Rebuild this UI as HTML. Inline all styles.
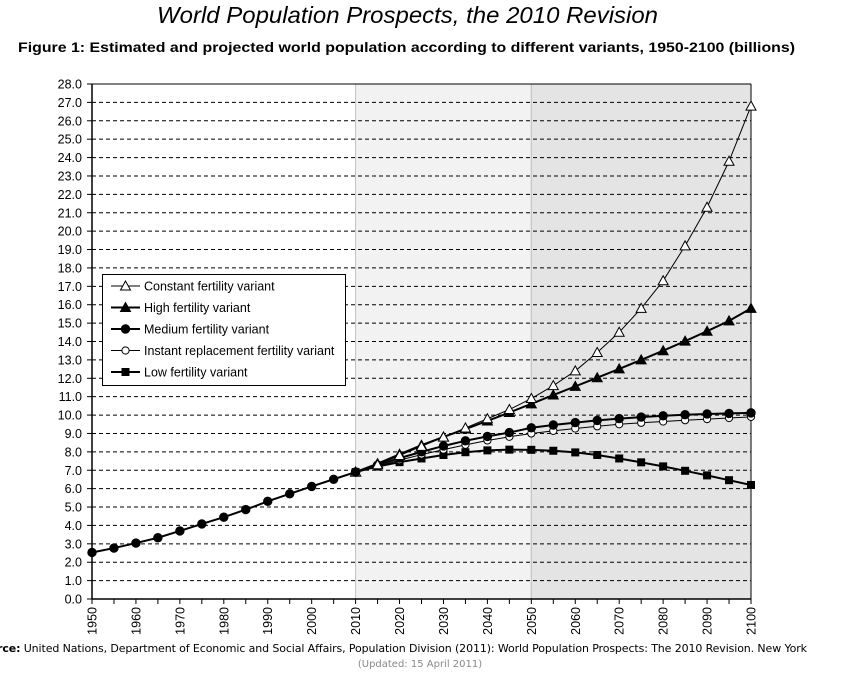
<!DOCTYPE html>
<html><head><meta charset="utf-8"><style>
body{margin:0;background:#fff;width:842px;height:673px;overflow:hidden;font-family:"Liberation Sans",sans-serif}
svg{display:block}
</style></head><body>
<svg id="chart" width="842" height="673" xmlns="http://www.w3.org/2000/svg">
<text x="157" y="23" font-size="23" font-style="italic" font-family="Liberation Sans" textLength="501" lengthAdjust="spacingAndGlyphs">World Population Prospects, the 2010 Revision</text>
<text x="18" y="52" font-size="14" font-weight="bold" font-family="Liberation Sans" textLength="777" lengthAdjust="spacingAndGlyphs">Figure 1: Estimated and projected world population according to different variants, 1950-2100 (billions)</text>
<g id="plot"></g>
<text x="-3" y="652" font-size="11" font-family="DejaVu Sans" textLength="810"><tspan font-weight="bold">rce:</tspan> United Nations, Department of Economic and Social Affairs, Population Division (2011): World Population Prospects: The 2010 Revision. New York</text>
<text x="420" y="667" text-anchor="middle" font-size="10" fill="#888" font-family="DejaVu Sans">(Updated: 15 April 2011)</text>
</svg>
<script>
const years=[1950,1955,1960,1965,1970,1975,1980,1985,1990,1995,2000,2005,2010,2015,2020,2025,2030,2035,2040,2045,2050,2055,2060,2065,2070,2075,2080,2085,2090,2095,2100];
const estimates=[2.53,2.77,3.04,3.33,3.70,4.08,4.45,4.86,5.31,5.72,6.12,6.51,6.90];
const projYears=[2010,2015,2020,2025,2030,2035,2040,2045,2050,2055,2060,2065,2070,2075,2080,2085,2090,2095,2100];
const constantV=[6.90,7.30,7.80,8.30,8.80,9.30,9.80,10.30,10.90,11.60,12.40,13.40,14.50,15.80,17.30,19.20,21.30,23.80,26.80];
const highV=[6.90,7.36,7.87,8.36,8.81,9.24,9.68,10.14,10.61,11.09,11.56,12.03,12.51,13.00,13.50,14.02,14.56,15.12,15.80];
const mediumV=[6.90,7.28,7.66,8.00,8.32,8.60,8.84,9.05,9.31,9.46,9.59,9.71,9.81,9.89,9.96,10.02,10.06,10.09,10.12];
const instantV=[6.90,7.22,7.55,7.85,8.12,8.38,8.62,8.82,9.00,9.14,9.27,9.39,9.50,9.58,9.65,9.72,9.78,9.84,9.90];
const lowV=[6.90,7.20,7.44,7.64,7.83,7.98,8.08,8.12,8.11,8.06,7.97,7.83,7.64,7.43,7.21,6.97,6.72,6.46,6.20];
const yTicks=[0,1,2,3,4,5,6,7,8,9,10,11,12,13,14,15,16,17,18,19,20,21,22,23,24,25,26,27,28];
const xLabels=[1950,1960,1970,1980,1990,2000,2010,2020,2030,2040,2050,2060,2070,2080,2090,2100];

const X0=92,X1=751,Y0=599,Y1=84;
const x=v=>X0+(v-1950)/(2100-1950)*(X1-X0);
const y=v=>Y0-v/28*(Y0-Y1);
const NS='http://www.w3.org/2000/svg';
const g=document.getElementById('plot');
function mk(t,a,p){const e=document.createElementNS(NS,t);for(const k in a)e.setAttribute(k,a[k]);(p||g).appendChild(e);return e;}

let e;
e=mk('rect',{x:x(2010),y:Y1,width:x(2050)-x(2010),height:Y0-Y1,fill:'#f2f2f2',stroke:'#c0c0c0'});


e=mk('rect',{x:x(2050),y:Y1,width:x(2100)-x(2050),height:Y0-Y1,fill:'#e4e4e4',stroke:'#c0c0c0'});



yTicks.forEach(t=>{
  if(t>0&&t<28){e=mk('line',{x1:X0,x2:X1,y1:y(t),y2:y(t),stroke:'#000','stroke-dasharray':'4,3'});
  
  }
  mk('line',{x1:X0-5,x2:X0,y1:y(t),y2:y(t),stroke:'#000'});
  e=mk('text',{x:X0-10,y:y(t)+4.5,'text-anchor':'end','font-size':12.5});
  e.textContent=t.toFixed(1);
  
  
});
mk('line',{x1:X0,x2:X1,y1:Y1,y2:Y1,stroke:'#000'});
mk('line',{x1:X1,x2:X1,y1:Y1,y2:Y0,stroke:'#000'});
e=mk('line',{x1:X0,x2:X0,y1:Y1,y2:Y0,stroke:'#000','stroke-width':1.5});


e=mk('line',{x1:X0,x2:X1,y1:Y0,y2:Y0,stroke:'#000','stroke-width':1.5});


for(let yr=1950;yr<=2100;yr+=5){mk('line',{x1:x(yr),x2:x(yr),y1:Y0,y2:Y0+5,stroke:'#000'});}
xLabels.forEach(v=>{
  e=mk('text',{transform:`translate(${x(v)+4.5},${Y0+8}) rotate(-90)`,'text-anchor':'end','font-size':12.5});
  e.textContent=v;
  
  
});

function marker(type,cx,cy,parent){
  if(type==='tri-open'||type==='tri')return mk('polygon',{points:`${cx},${cy-5} ${cx-5},${cy+4} ${cx+5},${cy+4}`,fill:type==='tri'?'#000':'#fff',stroke:'#000','stroke-width':1},parent);
  if(type==='circ'||type==='circ-open')return mk('circle',{cx:cx,cy:cy,r:type==='circ'?4.2:3.6,fill:type==='circ'?'#000':'#fff',stroke:'#000'},parent);
  return mk('rect',{x:cx-4,y:cy-4,width:8,height:8,fill:'#000'},parent);
}
function series(name,xs,vals,type,w){
  const sg=mk('g',{});
  
  
  mk('polyline',{points:xs.map((v,i)=>x(v)+','+y(vals[i])).join(' '),fill:'none',stroke:'#000','stroke-width':w},sg);
  xs.forEach((v,i)=>{const m=marker(type,x(v),y(vals[i]),sg);
    
    });
}
series('low-fertility-series',projYears,lowV,'sq',2);
series('instant-replacement-series',projYears,instantV,'circ-open',1);
series('medium-fertility-series',projYears,mediumV,'circ',2);
series('high-fertility-series',projYears,highV,'tri',2);
series('constant-fertility-series',projYears,constantV,'tri-open',1);
series('estimates-series',years.slice(0,13),estimates,'circ',2);

const lg=mk('g',{});


mk('rect',{x:102.5,y:274.5,width:243,height:111,fill:'#fff',stroke:'#000'},lg);
const legItems=[['Constant fertility variant','tri-open',1],['High fertility variant','tri',2],['Medium fertility variant','circ',2],['Instant replacement fertility variant','circ-open',1],['Low fertility variant','sq',2]];
legItems.forEach((it,i)=>{
  const cy=286+i*21.5;
  const eg=mk('g',{},lg);
  
  
  mk('line',{x1:111,x2:140,y1:cy,y2:cy,stroke:'#000','stroke-width':it[2]},eg);
  const m=marker(it[1],125.5,cy,eg);
  const t=mk('text',{x:144,y:cy+4.5,'font-size':12.5},eg);
  t.textContent=it[0];
});
</script>
</body></html>
